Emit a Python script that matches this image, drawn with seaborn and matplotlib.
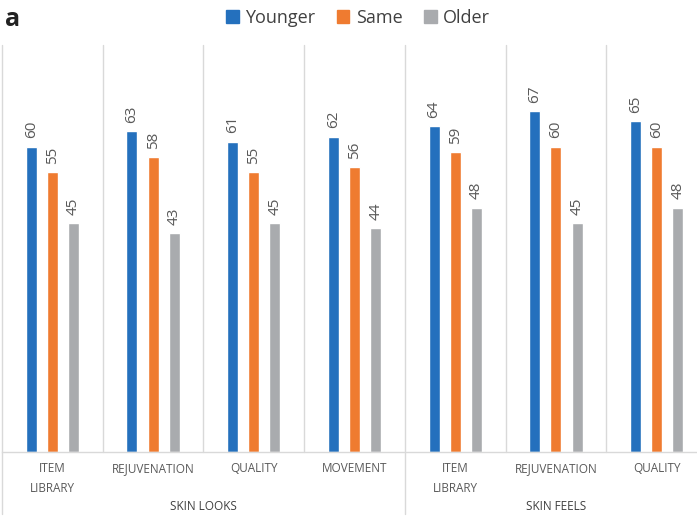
import matplotlib
matplotlib.use("Agg")
import matplotlib.pyplot as plt
import matplotlib.transforms as mtransforms
import seaborn as sns
import pandas as pd
from matplotlib.lines import Line2D

categories = ["ITEM\nLIBRARY", "REJUVENATION", "QUALITY", "MOVEMENT",
              "ITEM\nLIBRARY", "REJUVENATION", "QUALITY"]
groups = ["SKIN LOOKS", "SKIN FEELS"]
group_sizes = [4, 3]
series = ["Younger", "Same", "Older"]
younger = [60, 63, 61, 62, 64, 67, 65]
same = [55, 58, 55, 56, 59, 60, 60]
older = [45, 43, 45, 44, 48, 45, 48]
colors = ["#2470BD", "#EF7B30", "#A9ABAE"]

keys = [f"{i}" for i in range(len(categories))]
rows = []
for s, vals in zip(series, [younger, same, older]):
    for k, v in zip(keys, vals):
        rows.append({"cat": k, "series": s, "value": v})
df = pd.DataFrame(rows)

sns.set_style("white")
plt.rcParams["font.family"] = ["Open Sans", "DejaVu Sans"]

fig = plt.figure(figsize=(6.97, 5.16), dpi=100)
W, H = 697, 516
x0, x1 = 2, 707
ybase, ytop = 452, 45
ax = fig.add_axes([x0 / W, (H - ybase) / H, (x1 - x0) / W, (ybase - ytop) / H])

sns.barplot(data=df, x="cat", y="value", hue="series", order=keys,
            hue_order=series, palette=colors, width=0.63, gap=0.48,
            ax=ax, legend=False, saturation=1)

for cont in ax.containers:
    texts = ax.bar_label(cont, rotation=90, padding=6, fontsize=11, color="#595959")
    for t in texts:
        t.set_transform(t.get_transform() + mtransforms.ScaledTranslation(1.5 / 100, 0, fig.dpi_scale_trans))

ax.set_xlim(-0.5, len(categories) - 0.5)
ax.set_ylim(0, 80)
ax.set_yticks([])
ax.set_xlabel("")
ax.set_ylabel("")
for sp in ["top", "right", "left"]:
    ax.spines[sp].set_visible(False)
ax.spines["bottom"].set_color("#D9D9D9")
ax.spines["bottom"].set_linewidth(1)

ax.set_xticks(range(len(categories)))
ax.set_xticklabels(categories, fontsize=8.5, color="#595959", linespacing=1.75)
ax.tick_params(axis="x", length=0, pad=7)

# separators
trans = ax.get_xaxis_transform()
outer = [-0.5]
acc = -0.5
for g in group_sizes:
    acc += g
    outer.append(acc)
ylow = -(514 - ybase) / (ybase - ytop)
for i in range(len(categories) + 1):
    xpos = i - 0.5
    yb = ylow if xpos in outer else 0
    ax.add_line(Line2D([xpos, xpos], [1, yb], transform=trans,
                       color="#D9D9D9", lw=1, clip_on=False))

# group labels
start = -0.5
for g, n in zip(groups, group_sizes):
    cx = start + n / 2
    ax.text(cx, -(507 - ybase) / (ybase - ytop), g, transform=trans,
            ha="center", va="center", fontsize=8.5, color="#404040")
    start += n

# legend
handles = [plt.Rectangle((0, 0), 1, 1, color=c) for c in colors]
fig.legend(handles, series, loc="center", bbox_to_anchor=(358 / W, 1 - 18 / H),
           ncol=3, frameon=False, fontsize=13, handlelength=0.7, handleheight=0.7,
           handletextpad=0.35, columnspacing=1.2, labelcolor="#404040")

fig.text(5 / W, 1 - 20 / H, "a", fontsize=18, fontweight="bold", va="center",
         ha="left", color="#222222")

fig.savefig("out.png", dpi=100)
